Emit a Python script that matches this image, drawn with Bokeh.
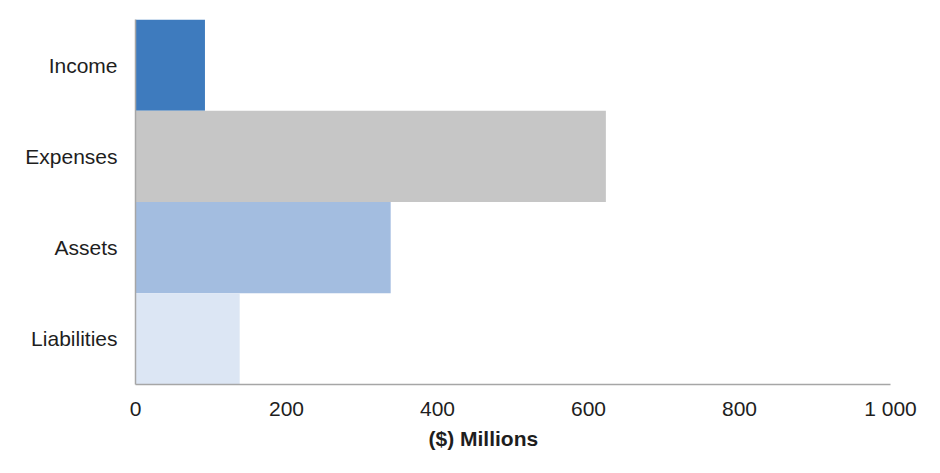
from bokeh.plotting import figure
from bokeh.models import Range1d, FactorRange, FixedTicker, Title
from bokeh.embed import file_html
from bokeh.resources import INLINE

categories = ["Income", "Expenses", "Assets", "Liabilities"]
values = [92, 623, 338, 138]
colors = ["#3E7BBE", "#C6C6C6", "#A3BDE0", "#DCE6F4"]
x_ticks = [0, 200, 400, 600, 800, 1000]
x_tick_labels = ["0", "200", "400", "600", "800", "1 000"]
x_title = "($) Millions"

FONT = "Liberation Sans"
TXT = "#1E1E1E"

p = figure(width=932, height=465, output_backend="svg", toolbar_location=None,
           y_range=FactorRange(*reversed(categories)), x_range=Range1d(0, 1000),
           min_border_left=135, min_border_right=42, min_border_top=19, min_border_bottom=81)
p.outline_line_color = None
p.background_fill_color = "white"
p.border_fill_color = "white"

p.hbar(y=categories, right=values, left=0, height=1.0, fill_color=colors, line_color=None)

p.xgrid.visible = False
p.ygrid.visible = False

xa = p.xaxis[0]
xa.ticker = FixedTicker(ticks=x_ticks)
xa.major_label_overrides = {t: l for t, l in zip(x_ticks, x_tick_labels)}
xa.major_tick_line_color = None
xa.minor_tick_line_color = None
xa.axis_line_color = "#A6A6A6"
xa.axis_line_width = 1.5
xa.major_label_text_font = FONT
xa.major_label_text_font_size = "21px"
xa.major_label_text_color = TXT
xa.major_label_standoff = 6

ya = p.yaxis[0]
ya.major_tick_line_color = None
ya.minor_tick_line_color = None
ya.axis_line_color = "#A6A6A6"
ya.axis_line_width = 1.5
ya.major_label_text_font = FONT
ya.major_label_text_font_size = "21px"
ya.major_label_text_color = TXT
ya.major_label_standoff = 12

t = Title(text=x_title, align="left", offset=293, standoff=5,
          text_font=FONT, text_font_size="21px", text_font_style="bold",
          text_color=TXT)
p.add_layout(t, "below")

open("out.html", "w").write(file_html(p, INLINE))
